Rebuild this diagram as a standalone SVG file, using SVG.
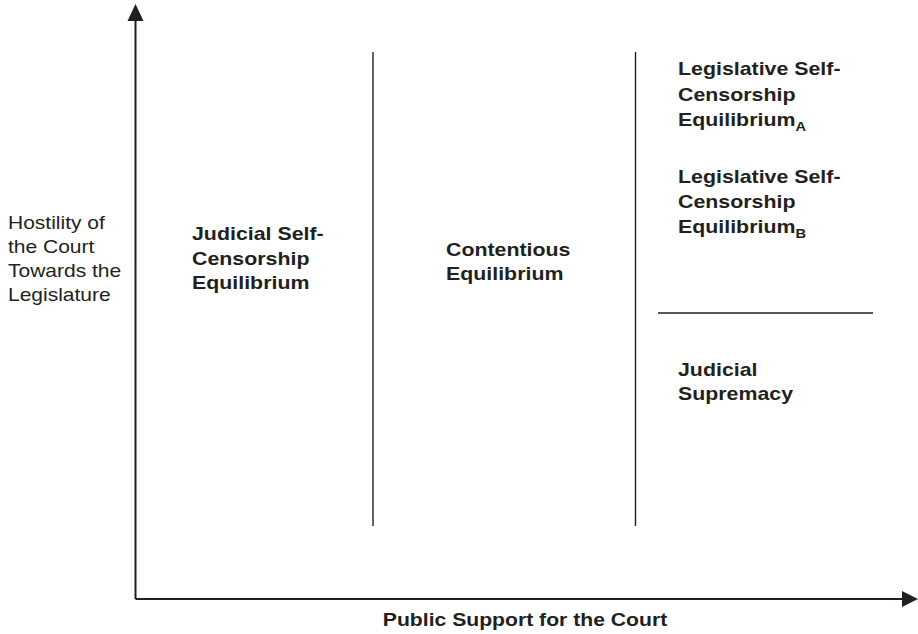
<svg xmlns="http://www.w3.org/2000/svg" width="918" height="634" viewBox="0 0 918 634">
<style>
.t{font-family:"Liberation Sans",Arial,sans-serif;font-size:17.5px;fill:#231f20}
.b{font-weight:bold}
.s{font-size:12px}
.ln{stroke:#231f20;stroke-width:1.4;fill:none}
.ax{stroke:#231f20;stroke-width:2;fill:none}
.hd{fill:#231f20}
</style>
<rect width="918" height="634" fill="#fff"/>
<g id="connectors">
<line class="ax" x1="135.5" y1="599" x2="135.5" y2="18"/>
<path class="hd" d="M127.5,21 L135.5,4 L143.5,21 z"/>
<line class="ax" x1="135.5" y1="599" x2="905" y2="599"/>
<path class="hd" d="M902,591 L918,599 L902,607 z"/>
<line class="ln" x1="373" y1="52" x2="373" y2="526"/>
<line class="ln" x1="635.5" y1="52" x2="635.5" y2="526"/>
<line class="ln" x1="658" y1="313" x2="873" y2="313"/>
</g>
<g id="y-label" transform="translate(8,0) scale(1.2,1)">
<text class="t" x="0" y="229">Hostility of</text>
<text class="t" x="0" y="253">the Court</text>
<text class="t" x="0" y="277">Towards the</text>
<text class="t" x="0" y="301">Legislature</text>
</g>
<g id="judicial-self-censorship" transform="translate(192,0) scale(1.22,1)">
<text class="t b" x="0" y="240">Judicial Self-</text>
<text class="t b" x="0" y="265">Censorship</text>
<text class="t b" x="0" y="289">Equilibrium</text>
</g>
<g id="contentious" transform="translate(446,0) scale(1.22,1)">
<text class="t b" x="0" y="256">Contentious</text>
<text class="t b" x="0" y="280">Equilibrium</text>
</g>
<g id="legislative-a" transform="translate(678,0) scale(1.22,1)">
<text class="t b" x="0" y="75.5">Legislative Self-</text>
<text class="t b" x="0" y="101">Censorship</text>
<text class="t b" x="0" y="126.5">Equilibrium<tspan class="s" dy="5">A</tspan></text>
</g>
<g id="legislative-b" transform="translate(678,0) scale(1.22,1)">
<text class="t b" x="0" y="183">Legislative Self-</text>
<text class="t b" x="0" y="208">Censorship</text>
<text class="t b" x="0" y="233">Equilibrium<tspan class="s" dy="5">B</tspan></text>
</g>
<g id="judicial-supremacy" transform="translate(678,0) scale(1.22,1)">
<text class="t b" x="0" y="376">Judicial</text>
<text class="t b" x="0" y="400">Supremacy</text>
</g>
<g id="x-label" transform="translate(525,0) scale(1.21,1)">
<text class="t b" x="0" y="626.5" text-anchor="middle">Public Support for the Court</text>
</g>
</svg>
